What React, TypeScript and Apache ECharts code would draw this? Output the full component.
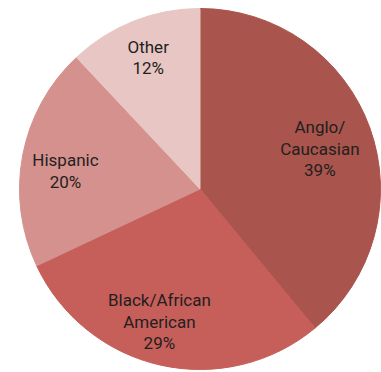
import React, { useEffect, useRef } from "react";
import * as echarts from "echarts";

const categories = ["Anglo/\nCaucasian", "Black/African\nAmerican", "Hispanic", "Other"];
const values = [39, 29, 20, 12];
const colors = ["#a9544c", "#c65e5a", "#d5918d", "#e8c6c4"];
// label nudges (horizontal padding, vertical spacer) to follow the original layout
const labelPads = [
  [0, 20, 0, 0],
  [0, 21, 0, 0],
  [0, 0, 0, 2],
  [0, 2, 0, 0],
];
const labelShiftY = [6.5, -2, 8, -3];

export default function App() {
  const ref = useRef<HTMLDivElement>(null);
  useEffect(() => {
    const chart = echarts.init(ref.current!, undefined, { renderer: "svg" });
    const center = [200, 189];
    chart.setOption({
      animation: false,
      series: [
        {
          type: "pie",
          center,
          radius: [0, 180.5],
          startAngle: 90,
          clockwise: true,
          silent: true,
          label: { show: false },
          labelLine: { show: false },
          data: categories.map((c, i) => ({
            name: c,
            value: values[i],
            itemStyle: { color: colors[i], borderColor: colors[i], borderWidth: 1 },
          })),
        },
        {
          type: "pie",
          center,
          radius: [100, 170],
          startAngle: 90,
          clockwise: true,
          silent: true,
          itemStyle: { color: "transparent", borderWidth: 0, borderColor: "transparent" },
          emphasis: { disabled: true },
          labelLine: { show: false },
          label: {
            show: true,
            position: "inside",
            color: "#231f20",
            fontFamily: "Roboto, 'Liberation Sans', sans-serif",
            fontSize: 17,
            lineHeight: 21.5,
            formatter: (p: any) => {
              const dy = labelShiftY[p.dataIndex];
              const txt = `${p.name}\n${p.value}%`;
              if (dy > 0) return `{sp| }\n${txt}`;
              if (dy < 0) return `${txt}\n{sp| }`;
              return txt;
            },
          },
          data: categories.map((c, i) => ({
            name: c,
            value: values[i],
            label: {
              padding: labelPads[i],
              rich: { sp: { fontSize: 1, lineHeight: Math.abs(labelShiftY[i]) * 2 } },
            },
          })),
        },
      ],
    });
    return () => chart.dispose();
  }, []);
  return (
    <div
      ref={ref}
      style={{ position: "fixed", left: 0, top: 0, width: 381, height: 372, background: "#fff" }}
    />
  );
}
